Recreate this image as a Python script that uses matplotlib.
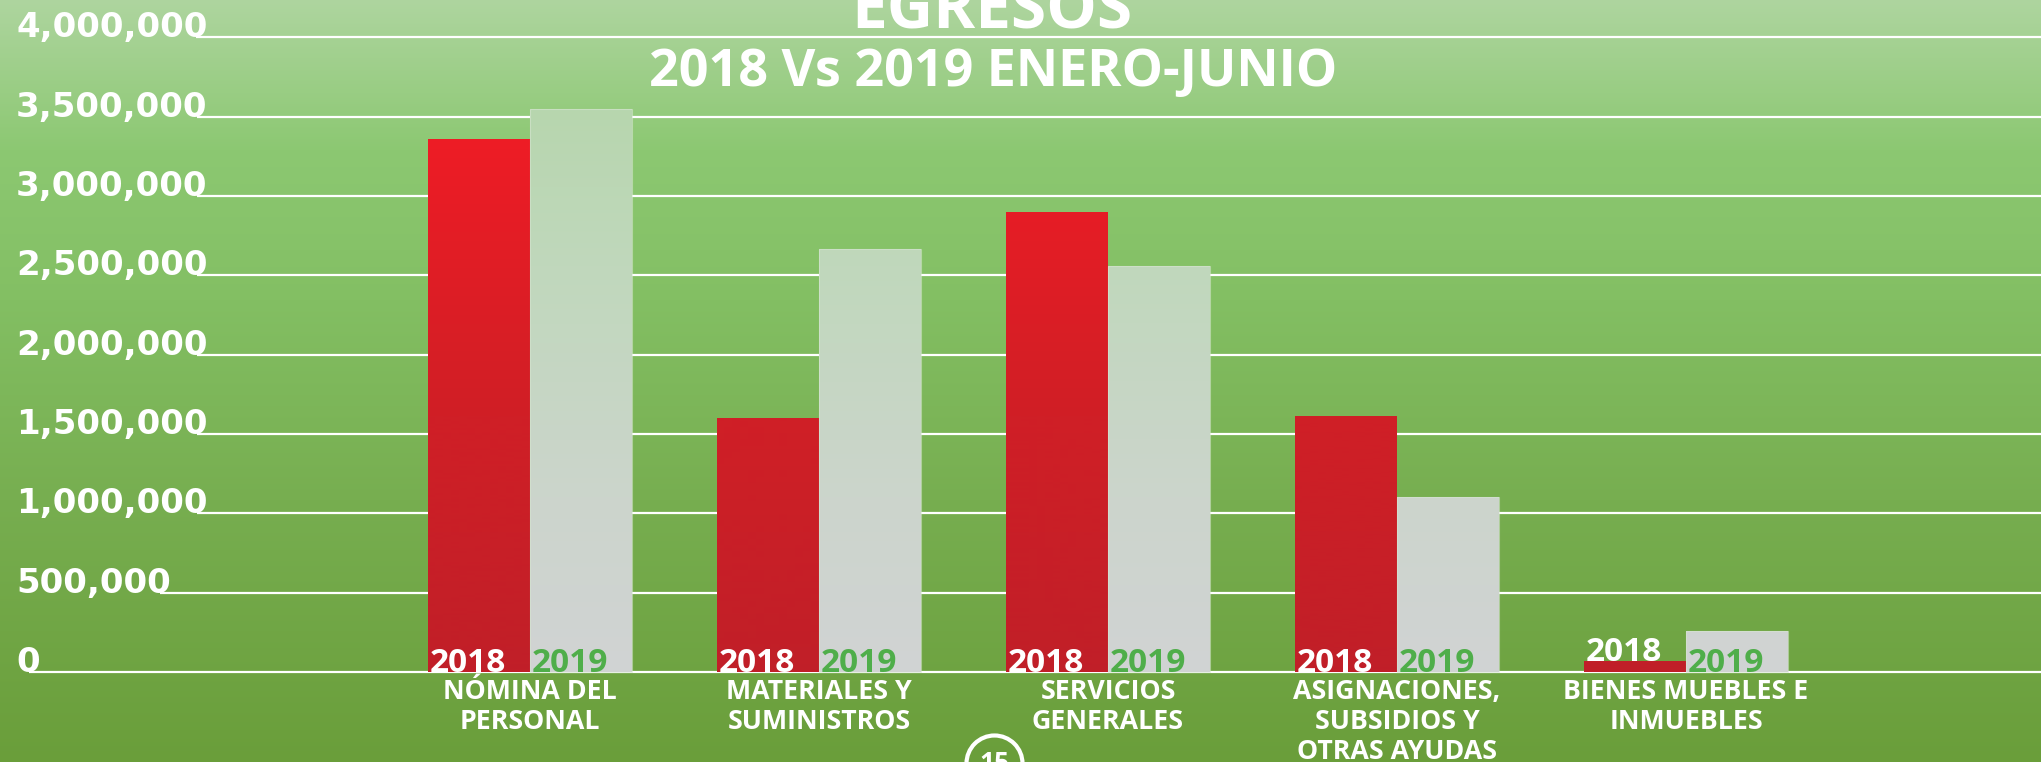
import numpy as np
import matplotlib
matplotlib.use("Agg")
import matplotlib.pyplot as plt
from matplotlib.patches import Circle
from matplotlib.colors import to_rgb
from matplotlib.transforms import blended_transform_factory

# ---------------- data ----------------
categories = [
    ["NÓMINA DEL", "PERSONAL"],
    ["MATERIALES Y", "SUMINISTROS"],
    ["SERVICIOS", "GENERALES"],
    ["ASIGNACIONES,", "SUBSIDIOS Y", "OTRAS AYUDAS"],
    ["BIENES MUEBLES E", "INMUEBLES"],
]
values_2018 = [3360000, 1600000, 2900000, 1615000, 72000]
values_2019 = [3550000, 2665000, 2560000, 1106000, 260000]
series_labels = ["2018", "2019"]
yticks = [0, 500000, 1000000, 1500000, 2000000, 2500000, 3000000, 3500000, 4000000]
ytick_labels = ["0", "500,000", "1,000,000", "1,500,000", "2,000,000",
                "2,500,000", "3,000,000", "3,500,000", "4,000,000"]
title = "EGRESOS"
subtitle = "2018 Vs 2019 ENERO-JUNIO"
page_number = "15"

# ---------------- layout ----------------
W, H = 2041, 762
fig = plt.figure(figsize=(W / 100, H / 100), dpi=100)
ax = fig.add_axes([0, 0, 1, 1])
ax.set_axis_off()

zero_px, top_px = 672.0, 37.4          # pixel rows (from top) of 0 and 4,000,000
ymax_tick = yticks[-1]
upp = ymax_tick / (zero_px - top_px)   # data units per pixel
ylim = (-(H - zero_px) * upp, ymax_tick + top_px * upp)
g0, gstep = 530.0, 289.0               # pixel x of first group centre, group spacing
xlim = (-g0 / gstep, (W - g0) / gstep)
ax.set_xlim(xlim)
ax.set_ylim(ylim)
bar_w = 102.0 / gstep


def px_to_y(p):
    return (zero_px - p) * upp


def gradient(stops, n=H):
    rows = np.arange(n)
    pos = [s[0] for s in stops]
    cols = np.array([to_rgb(s[1]) for s in stops])
    img = np.stack([np.interp(rows, pos, cols[:, k]) for k in range(3)], axis=1)
    return img[:, None, :]


extent = (xlim[0], xlim[1], ylim[0], ylim[1])

# background
bg = gradient([(0, "#aed59f"), (150, "#8cc872"), (300, "#83bf63"),
               (500, "#77ae50"), (762, "#6a9e3a")])
ax.imshow(bg, extent=extent, aspect="auto", origin="upper", zorder=0)

# y tick labels
ytrans = blended_transform_factory(ax.transAxes, ax.transData)
tick_texts = []
for v, lab in zip(yticks, ytick_labels):
    t = ax.text(16 / W, v, lab, transform=ytrans, ha="left", va="baseline",
                color="white", fontsize=24.5, fontweight="bold",
                family="DejaVu Sans", zorder=5)
    tick_texts.append(t)

# bars with vertical gradients
red_grad = gradient([(0, "#f31a22"), (140, "#ee1c25"), (416, "#d01f26"), (762, "#bb1f29")])
grey_grad = gradient([(0, "#b2d4a8"), (109, "#b7d6ae"), (266, "#c0d8bc"),
                      (497, "#ccd5cc"), (672, "#d1d3d4"), (762, "#d3d3d4")])
x = np.arange(len(categories))
bars18 = ax.bar(x - bar_w, values_2018, width=bar_w, align="edge",
                facecolor="none", edgecolor="none", zorder=3)
bars19 = ax.bar(x, values_2019, width=bar_w, align="edge",
                facecolor="none", edgecolor="none", zorder=3)
for bars, grad in ((bars18, red_grad), (bars19, grey_grad)):
    for p in bars:
        im = ax.imshow(grad, extent=extent, aspect="auto", origin="upper", zorder=3)
        im.set_clip_path(p)
for p in bars19:
    ax.add_patch(plt.Rectangle(p.get_xy(), p.get_width(), p.get_height(),
                               fill=False, edgecolor="#d6e6d0", lw=0.8, alpha=0.6, zorder=3.5))

# year labels on bars
label_min = 200000
for i in range(len(categories)):
    for bars, vals, lab, col in ((bars18, values_2018, series_labels[0], "white"),
                                 (bars19, values_2019, series_labels[1], "#4fae4a")):
        p = bars[i]
        yv = 0 if vals[i] > label_min else vals[i]
        ax.text(p.get_x() + 1.5 / gstep, yv, lab, ha="left", va="baseline",
                color=col, fontsize=24, fontweight="bold", family="Open Sans", zorder=6)

# category labels
base_px = [699, 729, 759]
for i, lines in enumerate(categories):
    for j, line in enumerate(lines):
        ax.text(i, px_to_y(base_px[j]), line, ha="center", va="baseline",
                color="white", fontsize=19.3, fontweight="bold",
                family="Open Sans", zorder=6, clip_on=False)

# titles
fig.text(992 / W, 1 - 28.6 / H, title, ha="center", va="baseline",
         color="white", fontsize=46, fontweight="bold", family="Open Sans")
fig.text(993 / W, 1 - 86 / H, subtitle, ha="center", va="baseline",
         color="white", fontsize=37.5, fontweight="bold", family="Open Sans")

# grid lines starting at the end of each tick label
fig.canvas.draw()
renderer = fig.canvas.get_renderer()
inv = ax.transData.inverted()
for v, t in zip(yticks, tick_texts):
    bb = t.get_window_extent(renderer)
    xs = inv.transform((bb.x1 - 11, 0))[0]
    ax.hlines(v, xs, xlim[1], color="white", lw=1.6, zorder=2)

# page number badge
fig.add_artist(Circle((994.5, -1.5), 28, transform=None, fill=False,
                      edgecolor="white", lw=3))
fig.text(994.5 / W, -1.5 / H, page_number, ha="center", va="center",
         color="white", fontsize=19, fontweight="bold", family="Open Sans")

fig.savefig("out.png", dpi=100)
